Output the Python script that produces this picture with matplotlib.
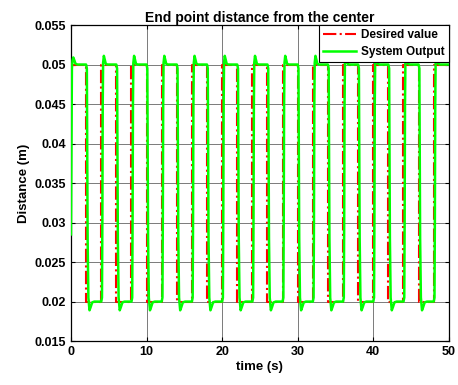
import matplotlib

matplotlib.use("Agg")
import matplotlib.pyplot as plt
import numpy as np

# desired square wave: switch times and level held after each switch
desired_switch_t = [0, 2, 4, 6, 8, 10, 12, 14, 16, 18, 20, 22, 24, 26, 28, 30,
                    32, 34, 36, 38, 40, 42, 44, 46, 48, 50]
desired_level = [0.05, 0.02, 0.05, 0.02, 0.05, 0.02, 0.05, 0.02, 0.05, 0.02,
                 0.05, 0.02, 0.05, 0.02, 0.05, 0.02, 0.05, 0.02, 0.05, 0.02,
                 0.05, 0.02, 0.05, 0.02, 0.05, 0.05]

# system output: cycle starts and one observed cycle shape (offset from start)
cycle_start = [0, 4, 8, 12, 16, 20, 24, 28, 32, 36, 40, 44, 48]
first_rise_dt = [0.0, 0.06, 0.12, 0.2, 0.3, 0.42, 0.6, 0.85, 1.1]
first_rise_val = [0.0285, 0.040, 0.0495, 0.0505, 0.0509, 0.0506, 0.0501, 0.0500, 0.0500]
rise_dt = [0.0, 0.1, 0.15, 0.2, 0.25, 0.35, 0.45, 0.6, 0.8, 1.1]
rise_val = [0.0200, 0.0205, 0.030, 0.045, 0.0502, 0.0511, 0.0507, 0.0501, 0.0500, 0.0500]
fall_dt = [2.0, 2.1, 2.15, 2.2, 2.3, 2.45, 2.6, 2.8, 3.1, 4.0]
fall_val = [0.0500, 0.0495, 0.040, 0.028, 0.0205, 0.0189, 0.0193, 0.0199, 0.0200, 0.0200]

t_end = 50

out_t, out_y = [], []
for i, t0 in enumerate(cycle_start):
    dts = (first_rise_dt if i == 0 else rise_dt) + fall_dt
    vals = (first_rise_val if i == 0 else rise_val) + fall_val
    for dt, v in zip(dts, vals):
        if t0 + dt <= t_end:
            out_t.append(t0 + dt)
            out_y.append(v)
if out_t[-1] < t_end:
    out_t.append(t_end)
    out_y.append(out_y[-1])

plt.rcParams["font.family"] = ["Liberation Sans", "DejaVu Sans"]
plt.rcParams["font.weight"] = "bold"

fig = plt.figure(figsize=(4.58, 3.85), dpi=100)
ax = fig.add_axes([0.155, 0.114, 0.825, 0.821])

ax.step(desired_switch_t, desired_level, where="post", color="red", ls="-.",
        lw=1.5, label="Desired value", zorder=2)
ax.plot(out_t, out_y, color="#00ff00", lw=1.8, label="System Output", zorder=3)

ax.set_xlim(0, 50)
ax.set_ylim(0.015, 0.055)
ax.set_xticks([0, 10, 20, 30, 40, 50])
ax.set_yticks([0.015, 0.02, 0.025, 0.03, 0.035, 0.04, 0.045, 0.05, 0.055])
ax.set_yticklabels(["0.015", "0.02", "0.025", "0.03", "0.035", "0.04", "0.045", "0.05", "0.055"])
ax.tick_params(direction="in", length=3, width=0.8, labelsize=9, top=True, right=True)
for lab in ax.get_xticklabels() + ax.get_yticklabels():
    lab.set_fontweight("bold")
ax.grid(True, color="#7a7a7a", lw=0.7)
ax.set_axisbelow(True)
for sp in ax.spines.values():
    sp.set_linewidth(0.9)

ax.set_title("End point distance from the center", fontsize=10, fontweight="bold", pad=2)
ax.set_xlabel("time (s)", fontsize=9.5, fontweight="bold", labelpad=2)
ax.set_ylabel("Distance (m)", fontsize=9.5, fontweight="bold", labelpad=3)

leg = ax.legend(loc="upper right", fontsize=8.5, frameon=True, fancybox=False,
                edgecolor="black", framealpha=1, borderaxespad=0, handlelength=2.8,
                borderpad=0.35, labelspacing=0.4, handletextpad=0.4)
leg.get_frame().set_linewidth(0.8)
for txt in leg.get_texts():
    txt.set_fontweight("bold")

fig.savefig("out.png", dpi=100)
